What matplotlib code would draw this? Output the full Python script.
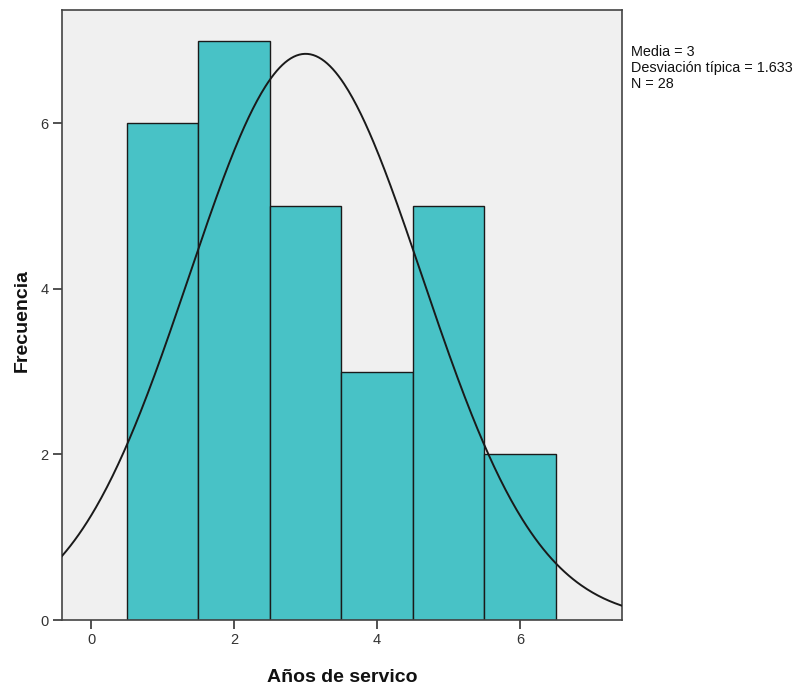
import numpy as np
import matplotlib
matplotlib.use("Agg")
import matplotlib.pyplot as plt

plt.rcParams['font.family'] = ['Liberation Sans', 'DejaVu Sans']

# Data
years = [1, 2, 3, 4, 5, 6]
freq = [6, 7, 5, 3, 5, 2]
mean = 3.0
sd = 1.633
n = 28
bin_width = 1.0
xticks = [0, 2, 4, 6]
yticks = [0, 2, 4, 6]

fig = plt.figure(figsize=(7.96, 6.89), dpi=100)
ax = fig.add_axes([62/796, 69/689, 560/796, 610/689])
ax.set_facecolor('#F0F0F0')

ax.bar(years, freq, width=bin_width, color='#48C2C6', edgecolor='#1a1a1a', linewidth=1.0, zorder=2)

xlim = (-0.41, 7.43)
xs = np.linspace(xlim[0], xlim[1], 400)
ys = n * bin_width / (sd * np.sqrt(2 * np.pi)) * np.exp(-0.5 * ((xs - mean) / sd) ** 2)
ax.plot(xs, ys, color='#1a1a1a', linewidth=1.4, zorder=3)

ax.set_xlim(*xlim)
ax.set_ylim(0, 7.37)
ax.set_xticks(xticks)
ax.set_yticks(yticks)
ax.tick_params(direction='out', length=6.5, width=1.2, labelsize=10.5, colors='#333333', pad=3)
for s in ax.spines.values():
    s.set_color('#444444')
    s.set_linewidth(1.2)

fig.text(342/796, 1 - 678/689, 'Años de servico', fontsize=14, fontweight='bold',
         ha='center', va='center', color='#111111')
fig.text(22/796, 1 - 321/689, 'Frecuencia', fontsize=14, fontweight='bold', rotation=90,
         ha='center', va='center', color='#111111')

fig.text(631/796, 1 - 68/689, f'Media = {mean:g}\nDesviación típica = {sd}\nN = {n}',
         fontsize=10.4, va='center', ha='left', linespacing=1.2, color='#111111')

fig.savefig('out.png', dpi=100)
